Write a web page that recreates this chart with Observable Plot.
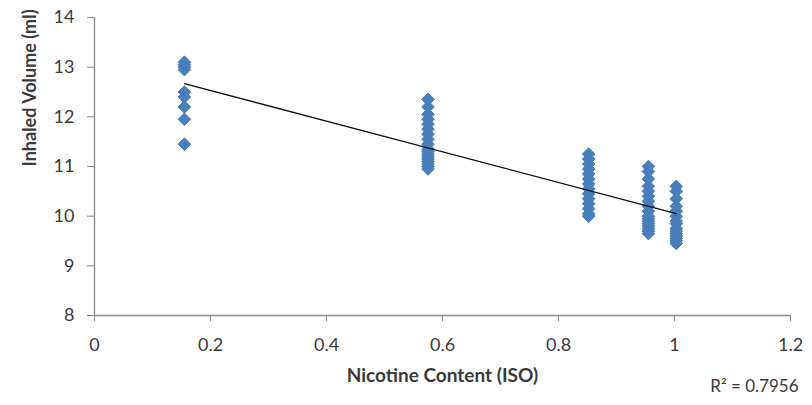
<!DOCTYPE html>
<html>
<head>
<meta charset="utf-8">
<script src="https://cdn.jsdelivr.net/npm/d3@7"></script>
<script src="https://cdn.jsdelivr.net/npm/@observablehq/plot@0.6"></script>
<style>
  html, body { margin: 0; padding: 0; background: #fff; }
</style>
</head>
<body>
<div id="chart"></div>
<script>
// Nicotine content (ISO) groups and inhaled volume (ml) readings per group
const nicotine = [0.155, 0.575, 0.852, 0.955, 1.003];
const volumes = [
  [13.1, 13.05, 13.0, 12.95, 12.5, 12.4, 12.2, 11.95, 11.45],
  [12.35, 12.2, 12.05, 11.95, 11.85, 11.75, 11.65, 11.55, 11.45, 11.35, 11.3, 11.25, 11.2, 11.15, 11.1, 11.05, 11.0, 10.95],
  [11.25, 11.15, 11.05, 10.95, 10.85, 10.75, 10.65, 10.55, 10.45, 10.35, 10.25, 10.15, 10.05, 10.0],
  [11.0, 10.9, 10.75, 10.6, 10.5, 10.4, 10.3, 10.2, 10.1, 10.0, 9.95, 9.9, 9.85, 9.8, 9.75, 9.7, 9.65],
  [10.6, 10.5, 10.35, 10.2, 10.1, 10.0, 9.9, 9.85, 9.75, 9.7, 9.65, 9.6, 9.55, 9.5, 9.45]
];
const xTicks = [0, 0.2, 0.4, 0.6, 0.8, 1, 1.2];
const yTicks = [8, 9, 10, 11, 12, 13, 14];
const xTitle = "Nicotine Content (ISO)";
const yTitle = "Inhaled Volume (ml)";
const r2Label = "R² = 0.7956";

const data = nicotine.flatMap((x, i) => volumes[i].map(v => ({x, v})));

const chart = Plot.plot({
  width: 812,
  height: 405,
  marginLeft: 94,
  marginRight: 22,
  marginTop: 17,
  marginBottom: 90,
  style: {fontFamily: "Lato, 'Open Sans', sans-serif", fontSize: "18px", color: "#3a3a3a", background: "#fff"},
  x: {domain: [0, 1.2]},
  y: {domain: [8, 14]},
  marks: [
    Plot.axisX({ticks: xTicks, tickSize: 6, tickPadding: 17, stroke: "#888", tickFormat: d => String(d), label: null}),
    Plot.axisY({ticks: yTicks, tickSize: 7, tickPadding: 13, stroke: "#888", tickFormat: d => String(d), label: null}),
    Plot.ruleX([0], {stroke: "#888", strokeWidth: 1.3}),
    Plot.ruleY([8], {stroke: "#888", strokeWidth: 1.3}),
    Plot.dot(data, {x: "x", y: "v", symbol: "diamond2", r: 5.7, fill: "#4a7ebb", stroke: "#4a7ebb", strokeWidth: 1}),
    Plot.linearRegressionY(data, {x: "x", y: "v", stroke: "#111", strokeWidth: 1.3, ci: 0}),
    Plot.text([r2Label], {frameAnchor: "bottom-right", text: d => d, dy: 76, dx: 8, textAnchor: "end", fontSize: 17, fill: "#3a3a3a"}),
    Plot.text([xTitle], {frameAnchor: "bottom", text: d => d, dy: 66, fontWeight: "bold", fontSize: 19, fill: "#3a3a3a"}),
    Plot.text([yTitle], {frameAnchor: "left", text: d => d, dx: -64, rotate: -90, fontWeight: "bold", fontSize: 18, fill: "#3a3a3a"})
  ]
});
document.getElementById("chart").appendChild(chart);
</script>
</body>
</html>
